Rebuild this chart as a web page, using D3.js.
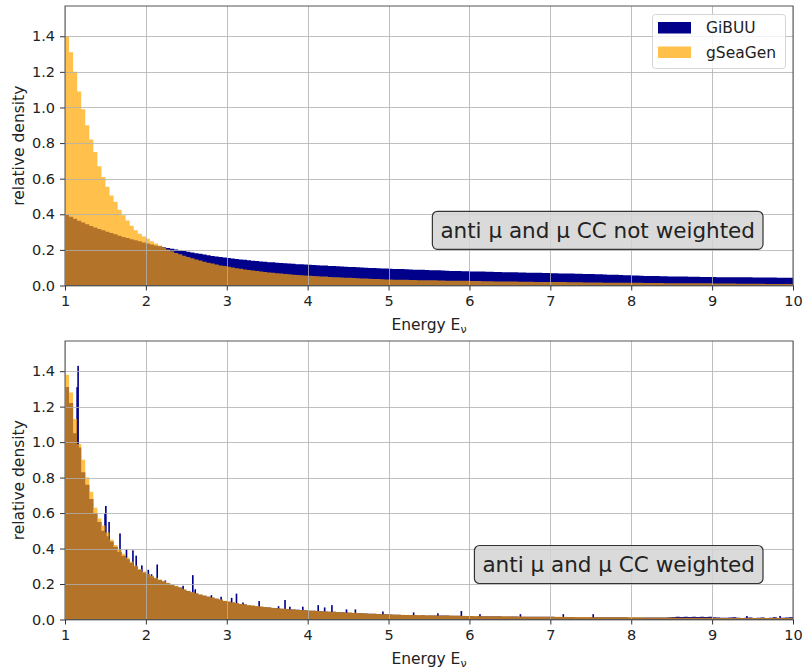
<!DOCTYPE html>
<html>
<head>
<meta charset="utf-8">
<script src="https://d3js.org/d3.v7.min.js"></script>
<style>
  body { margin: 0; background: #fff; }
  svg text { font-family: "DejaVu Sans", sans-serif; fill: #222; }
</style>
</head>
<body>
<div id="chart"></div>
<script>
// histogram bins: 1 .. 10, width 0.05 (180 bins)
const energyMin = 1, energyMax = 10, binWidth = 0.05
const xTicks = [1, 2, 3, 4, 5, 6, 7, 8, 9, 10]
const yTicks = [0, 0.2, 0.4, 0.6, 0.8, 1.0, 1.2, 1.4]
const seriesNames = ['GiBUU', 'gSeaGen']
const panelTitles = ['anti μ and μ CC not weighted', 'anti μ and μ CC weighted']

// top panel: not weighted
const gibuuRaw = [
  0.398,0.386,0.375,0.364,0.354,0.344,0.334,0.326,0.318,0.310,0.302,0.295,0.288,0.280,0.273,0.267,0.260,0.254,0.248,0.241,
  0.236,0.230,0.225,0.221,0.215,0.210,0.206,0.202,0.197,0.194,0.189,0.186,0.181,0.178,0.174,0.170,0.166,0.163,0.160,0.157,
  0.154,0.151,0.149,0.146,0.144,0.142,0.139,0.138,0.135,0.134,0.131,0.130,0.128,0.126,0.125,0.123,0.122,0.120,0.119,0.118,
  0.117,0.115,0.114,0.113,0.112,0.110,0.109,0.108,0.107,0.106,0.104,0.104,0.102,0.101,0.100,0.099,0.098,0.097,0.096,0.095,
  0.094,0.093,0.092,0.092,0.091,0.090,0.089,0.088,0.088,0.087,0.086,0.085,0.085,0.084,0.083,0.082,0.082,0.081,0.080,0.080,
  0.079,0.079,0.078,0.078,0.077,0.077,0.076,0.076,0.075,0.075,0.074,0.074,0.073,0.073,0.072,0.072,0.071,0.071,0.070,0.070,
  0.069,0.069,0.068,0.068,0.067,0.067,0.066,0.066,0.065,0.065,0.064,0.063,0.063,0.062,0.061,0.060,0.060,0.059,0.058,0.057,
  0.056,0.056,0.055,0.054,0.054,0.053,0.053,0.052,0.052,0.051,0.051,0.050,0.050,0.050,0.049,0.049,0.049,0.048,0.048,0.048,
  0.048,0.047,0.047,0.047,0.047,0.046,0.046,0.046,0.046,0.046,0.045,0.045,0.045,0.045,0.045,0.045,0.044,0.044,0.044,0.044
]
const gseagenRaw = [
  1.40,1.31,1.20,1.09,0.99,0.90,0.82,0.75,0.67,0.61,0.555,0.505,0.47,0.425,0.395,0.365,0.335,0.31,0.29,0.275,
  0.262,0.249,0.236,0.224,0.213,0.202,0.192,0.183,0.175,0.167,0.160,0.153,0.146,0.140,0.134,0.128,0.123,0.118,0.113,0.109,
  0.105,0.101,0.097,0.094,0.090,0.087,0.084,0.081,0.078,0.076,0.073,0.071,0.069,0.067,0.065,0.063,0.061,0.059,0.058,0.056,
  0.055,0.054,0.052,0.051,0.050,0.048,0.047,0.046,0.045,0.044,0.043,0.042,0.041,0.040,0.039,0.038,0.037,0.036,0.035,0.034,
  0.034,0.033,0.033,0.032,0.032,0.031,0.031,0.030,0.030,0.029,0.029,0.029,0.028,0.028,0.027,0.027,0.027,0.026,0.026,0.026,
  0.025,0.025,0.025,0.024,0.024,0.024,0.023,0.023,0.023,0.022,0.022,0.022,0.021,0.021,0.021,0.021,0.020,0.020,0.020,0.020,
  0.019,0.019,0.019,0.019,0.018,0.018,0.018,0.018,0.017,0.017,0.017,0.017,0.017,0.016,0.016,0.016,0.016,0.016,0.015,0.015,
  0.015,0.015,0.015,0.014,0.014,0.014,0.014,0.014,0.013,0.013,0.013,0.013,0.013,0.013,0.012,0.012,0.012,0.012,0.012,0.012,
  0.011,0.011,0.011,0.011,0.011,0.011,0.010,0.010,0.010,0.010,0.010,0.010,0.010,0.009,0.009,0.009,0.009,0.009,0.009,0.009
]

// bottom panel: weighted
const gibuuWeighted = [
  1.31,1.22,1.05,0.97,0.83,0.76,0.68,0.60,0.55,0.50,0.47,0.44,0.41,0.38,0.36,0.34,0.32,0.30,0.28,0.265,
  0.255,0.243,0.233,0.222,0.214,0.205,0.195,0.188,0.180,0.168,0.160,0.153,0.146,0.140,0.134,0.128,0.122,0.117,0.111,0.104,
  0.100,0.096,0.092,0.088,0.085,0.081,0.078,0.075,0.072,0.070,0.067,0.065,0.063,0.061,0.059,0.058,0.056,0.055,0.053,0.052,
  0.050,0.049,0.048,0.046,0.045,0.044,0.043,0.042,0.041,0.040,0.038,0.037,0.036,0.035,0.034,0.033,0.032,0.031,0.030,0.029,
  0.028,0.027,0.027,0.026,0.026,0.025,0.025,0.024,0.024,0.023,0.023,0.023,0.022,0.022,0.022,0.021,0.021,0.021,0.020,0.020,
  0.020,0.019,0.019,0.019,0.018,0.018,0.018,0.018,0.017,0.017,0.017,0.017,0.016,0.016,0.016,0.016,0.015,0.015,0.015,0.015,
  0.015,0.014,0.014,0.014,0.014,0.014,0.013,0.013,0.013,0.013,0.013,0.013,0.012,0.012,0.012,0.012,0.012,0.012,0.012,0.011,
  0.011,0.011,0.011,0.011,0.011,0.011,0.011,0.011,0.011,0.013,0.014,0.015,0.014,0.015,0.014,0.015,0.014,0.015,0.014,0.015,
  0.012,0.011,0.010,0.010,0.011,0.012,0.010,0.009,0.010,0.011,0.009,0.010,0.011,0.009,0.010,0.012,0.009,0.010,0.011,0.012
]
const gseagenWeighted = [
  1.38,1.28,1.13,0.99,0.90,0.80,0.72,0.63,0.57,0.53,0.49,0.45,0.42,0.395,0.37,0.35,0.325,0.305,0.285,0.27,
  0.258,0.247,0.236,0.226,0.216,0.207,0.198,0.190,0.182,0.170,0.162,0.155,0.148,0.142,0.136,0.130,0.124,0.118,0.113,0.105,
  0.101,0.097,0.093,0.089,0.085,0.082,0.079,0.076,0.073,0.070,0.068,0.066,0.064,0.062,0.060,0.058,0.057,0.055,0.054,0.052,
  0.051,0.050,0.048,0.047,0.046,0.044,0.043,0.042,0.041,0.040,0.039,0.038,0.036,0.035,0.034,0.033,0.032,0.031,0.030,0.029,
  0.028,0.028,0.027,0.027,0.026,0.026,0.025,0.025,0.024,0.024,0.023,0.023,0.023,0.022,0.022,0.022,0.021,0.021,0.021,0.020,
  0.020,0.020,0.019,0.019,0.019,0.019,0.018,0.018,0.018,0.018,0.017,0.017,0.017,0.017,0.016,0.016,0.016,0.016,0.016,0.015,
  0.015,0.015,0.015,0.015,0.014,0.014,0.014,0.014,0.014,0.014,0.013,0.013,0.013,0.013,0.013,0.013,0.012,0.012,0.012,0.012,
  0.012,0.012,0.012,0.011,0.011,0.011,0.011,0.011,0.011,0.011,0.011,0.010,0.010,0.010,0.010,0.010,0.010,0.010,0.010,0.010,
  0.010,0.009,0.009,0.009,0.009,0.009,0.009,0.009,0.009,0.009,0.008,0.008,0.008,0.008,0.008,0.008,0.008,0.008,0.008,0.008
]
// single narrow GiBUU bins sticking out (weighted)
const spikeEnergy = [1.150,1.162,1.495,1.505,1.545,1.68,1.76,1.84,1.88,1.95,2.03,2.07,2.14,2.24,2.34,2.46,2.58,2.61,2.81,2.93,
  3.06,3.12,3.20,3.40,3.64,3.72,3.78,3.94,4.13,4.21,4.30,4.48,4.59,4.93,5.31,5.61,5.90,6.13,6.63,7.16,7.53,9.43,9.84]
const spikeDensity = [1.31,1.43,0.60,0.64,0.55,0.485,0.395,0.39,0.36,0.305,0.28,0.255,0.31,0.22,0.19,0.19,0.25,0.17,0.137,0.128,
  0.122,0.146,0.096,0.104,0.075,0.11,0.072,0.072,0.081,0.068,0.081,0.057,0.057,0.045,0.04,0.035,0.048,0.03,0.03,0.03,0.03,0.02,0.02]
const spikeWidth = 0.02

const width = 804, height = 671
const navy = '#00008b', orange = 'orange'

const svg = d3.select('#chart')
  .append('svg')
  .attr('width', width)
  .attr('height', height)

// 畫一個 panel
function drawPanel(top, bottom, gibuu, gseagen, title, withSpikes, withLegend) {
  const left = 65, right = 793
  const g = svg.append('g')

  const xScale = d3.scaleLinear().domain([energyMin, energyMax]).range([left, right])
  const yScale = d3.scaleLinear().domain([0, 1.57]).range([bottom, top])

  // step outline of a histogram
  const stepPath = values => {
    const pts = values.map((v, i) => [energyMin + i * binWidth, v])
    pts.push([energyMax, values[values.length - 1]])
    return d3.area()
      .x(d => xScale(d[0]))
      .y0(yScale(0))
      .y1(d => yScale(d[1]))
      .curve(d3.curveStepAfter)(pts)
  }

  g.append('path').attr('d', stepPath(gibuu)).attr('fill', navy)

  if (withSpikes) {
    g.selectAll('.spike')
      .data(d3.zip(spikeEnergy, spikeDensity))
      .join('rect')
      .attr('x', d => xScale(d[0] - spikeWidth / 2))
      .attr('width', d => xScale(d[0] + spikeWidth / 2) - xScale(d[0] - spikeWidth / 2))
      .attr('y', d => yScale(d[1]))
      .attr('height', d => yScale(0) - yScale(d[1]))
      .attr('fill', navy)
  }

  g.append('path').attr('d', stepPath(gseagen)).attr('fill', orange).attr('fill-opacity', 0.7)

  // grid on top of the bars
  g.append('g').selectAll('line')
    .data(xTicks)
    .join('line')
    .attr('x1', d => Math.round(xScale(d)) + 0.5).attr('x2', d => Math.round(xScale(d)) + 0.5)
    .attr('y1', top).attr('y2', bottom)
    .attr('stroke', '#b0b0b0').attr('stroke-opacity', 0.8)
  g.append('g').selectAll('line')
    .data(yTicks)
    .join('line')
    .attr('x1', left).attr('x2', right)
    .attr('y1', d => Math.round(yScale(d)) + 0.5).attr('y2', d => Math.round(yScale(d)) + 0.5)
    .attr('stroke', '#b0b0b0').attr('stroke-opacity', 0.8)

  // axes
  const xAxis = d3.axisBottom(xScale).tickValues(xTicks).tickFormat(d => d).tickSize(5).tickPadding(5)
  const yAxis = d3.axisLeft(yScale).tickValues(yTicks).tickFormat(d3.format('.1f')).tickSize(5).tickPadding(5)
  const xg = g.append('g').attr('transform', `translate(0,${bottom})`).call(xAxis)
  const yg = g.append('g').attr('transform', `translate(${left},0)`).call(yAxis)
  ;[xg, yg].forEach(a => {
    a.select('.domain').remove()
    a.selectAll('line').attr('stroke', '#333')
    a.selectAll('text').style('font-size', '14.5px').attr('fill', '#222')
  })

  // frame
  g.append('rect')
    .attr('x', left).attr('y', top)
    .attr('width', right - left).attr('height', bottom - top)
    .attr('fill', 'none').attr('stroke', '#555').attr('stroke-width', 1)

  // axis labels
  const xl = g.append('text')
    .attr('x', (left + right) / 2).attr('y', bottom + 44)
    .attr('text-anchor', 'middle').style('font-size', '15.5px')
  xl.append('tspan').text('Energy E')
  xl.append('tspan').attr('dy', 3).style('font-size', '11px').text('ν')

  g.append('text')
    .attr('transform', `translate(19,${(top + bottom) / 2}) rotate(-90)`)
    .attr('text-anchor', 'middle').attr('dominant-baseline', 'central')
    .style('font-size', '15.5px')
    .text('relative density')

  // text box
  const box = g.append('g')
  const boxRect = box.append('rect')
  const boxText = box.append('text')
    .attr('x', 755).attr('y', yScale(0.31))
    .attr('text-anchor', 'end').attr('dominant-baseline', 'central')
    .style('font-size', '21.5px')
    .text(title)
  const bb = boxText.node().getBBox()
  boxRect
    .attr('x', bb.x - 8).attr('y', bb.y - 6.5)
    .attr('width', bb.width + 16).attr('height', bb.height + 13)
    .attr('rx', 5)
    .attr('fill', '#d3d3d3').attr('fill-opacity', 0.85)
    .attr('stroke', '#333').attr('stroke-width', 1.2)

  if (withLegend) {
    const lg = g.append('g')
    lg.append('rect')
      .attr('x', 652.5).attr('y', 14.5).attr('width', 133).attr('height', 54).attr('rx', 3)
      .attr('fill', '#fff').attr('fill-opacity', 0.8).attr('stroke', '#d5d5d5')
    const colors = [navy, orange], opac = [1, 0.7]
    seriesNames.forEach((name, i) => {
      lg.append('rect')
        .attr('x', 658).attr('y', 22 + i * 24.5).attr('width', 33).attr('height', 11.5)
        .attr('fill', colors[i]).attr('fill-opacity', opac[i])
      lg.append('text')
        .attr('x', 706).attr('y', 28 + i * 24.5)
        .attr('dominant-baseline', 'central').style('font-size', '15.5px')
        .text(name)
    })
  }
}

drawPanel(6, 285.5, gibuuRaw, gseagenRaw, panelTitles[0], false, true)
drawPanel(341, 619.5, gibuuWeighted, gseagenWeighted, panelTitles[1], true, false)
</script>
</body>
</html>
